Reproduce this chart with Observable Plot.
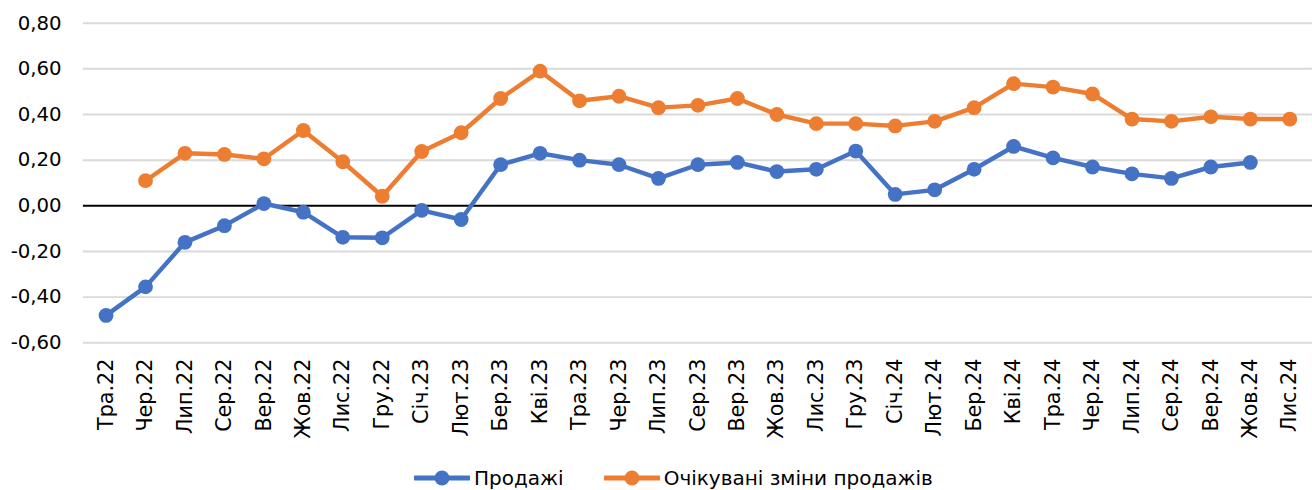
<!DOCTYPE html>
<html><head><meta charset="utf-8">
<script src="https://cdn.jsdelivr.net/npm/d3@7"></script>
<script src="https://cdn.jsdelivr.net/npm/@observablehq/plot@0.6"></script>
<style>
body{margin:0;background:#fff;font-family:"DejaVu Sans",sans-serif;}
#wrap{width:1312px;height:490px;overflow:hidden;position:relative;background:#fff}
#legend{position:absolute;top:467px;left:414px;height:22px;display:flex;align-items:center;font-size:20px;line-height:22px;color:#000;white-space:nowrap}
#legend .item{display:flex;align-items:center}
#legend svg{display:block}
</style></head><body><div id="wrap"><div id="chart"></div><div id="legend"></div></div>
<script>
const months = ["Тра.22","Чер.22","Лип.22","Сер.22","Вер.22","Жов.22","Лис.22","Гру.22","Січ.23","Лют.23","Бер.23","Кві.23","Тра.23","Чер.23","Лип.23","Сер.23","Вер.23","Жов.23","Лис.23","Гру.23","Січ.24","Лют.24","Бер.24","Кві.24","Тра.24","Чер.24","Лип.24","Сер.24","Вер.24","Жов.24","Лис.24"];
const sales = [-0.48,-0.355,-0.16,-0.087,0.01,-0.028,-0.138,-0.14,-0.02,-0.06,0.18,0.23,0.20,0.18,0.12,0.18,0.19,0.15,0.16,0.24,0.05,0.07,0.16,0.26,0.21,0.17,0.14,0.12,0.17,0.19,null];
const expected = [null,0.11,0.23,0.225,0.206,0.33,0.193,0.042,0.238,0.32,0.47,0.59,0.46,0.48,0.43,0.44,0.47,0.40,0.36,0.36,0.35,0.37,0.43,0.535,0.52,0.49,0.38,0.37,0.39,0.38,0.38];
const yTicks = [-0.6,-0.4,-0.2,0,0.2,0.4,0.6,0.8];
const seriesNames = ["Продажі","Очікувані зміни продажів"];
const seriesColors = ["#4472C4","#ED7D31"];

const rows = [];
months.forEach((m,i)=>{ rows.push({m, v: sales[i], s: seriesNames[0]}); });
months.forEach((m,i)=>{ rows.push({m, v: expected[i], s: seriesNames[1]}); });

const fmt = d => d3.format(".2f")(d).replace(".", ",").replace("−","-");

const chart = Plot.plot({
  width: 1330,
  height: 460,
  marginLeft: 84,
  marginRight: 0,
  marginTop: 23,
  marginBottom: 113,
  style: {fontFamily: "DejaVu Sans", fontSize: "20px", color: "#000", background: "#fff", overflow: "hidden"},
  x: {type: "point", domain: months, padding: 0.5},
  y: {domain: [-0.6, 0.8]},
  color: {domain: seriesNames, range: seriesColors},
  marks: [
    Plot.ruleY(yTicks.filter(d => d !== 0), {stroke: "#d9d9d9", strokeWidth: 2}),
    Plot.ruleY([0], {stroke: "#000", strokeWidth: 2}),
    Plot.axisY({ticks: yTicks, tickFormat: fmt, tickSize: 0, tickPadding: 22, label: null, fontSize: 20}),
    Plot.axisX({tickSize: 0, tickPadding: 16, tickRotate: -90, label: null, fontSize: 21}),
    Plot.line(rows, {x: "m", y: "v", z: "s", stroke: d => d.s, strokeWidth: 4.5, curve: "linear"}),
    Plot.dot(rows.filter(d => d.v != null), {x: "m", y: "v", fill: d => d.s, r: 7.5})
  ]
});
document.getElementById("chart").appendChild(chart);

const legend = document.getElementById("legend");
seriesNames.forEach((name, i) => {
  const item = document.createElement("div");
  item.className = "item";
  item.style.marginRight = i === 0 ? "40px" : "0";
  item.innerHTML = `<svg width="56" height="18"><line x1="1" y1="9" x2="55" y2="9" stroke="${seriesColors[i]}" stroke-width="5" stroke-linecap="round"/><circle cx="28" cy="9" r="7.5" fill="${seriesColors[i]}"/></svg><span style="margin-left:4px">${name}</span>`;
  legend.appendChild(item);
});
</script>
</body></html>
